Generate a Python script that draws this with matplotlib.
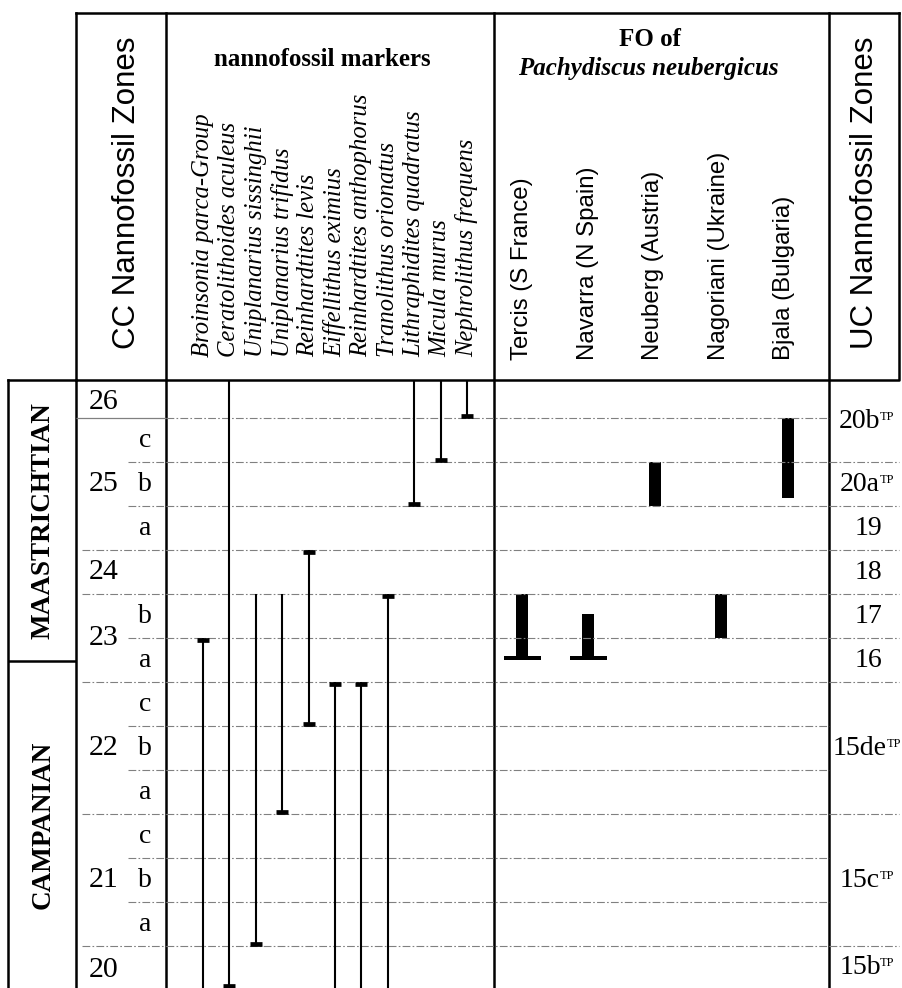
import matplotlib.pyplot as plt

plt.rcParams['font.family'] = 'Liberation Serif'

# --- data (vertical units = CC subzone boundaries, 0 = base of CC26, counting down) ---
markers = ['Broinsonia parca-Group', 'Ceratolithoides aculeus', 'Uniplanarius sissinghii',
           'Uniplanarius trifidus', 'Reinhardtites levis', 'Eiffellithus eximius',
           'Reinhardtites anthophorus', 'Tranolithus orionatus', 'Lithraphidites quadratus',
           'Micula murus', 'Nephrolithus frequens']
marker_top = [5, None, 4, 4, 3, 6, 6, 4, None, None, None]      # None = runs off the top
marker_base = [None, 12.95, 12, 9, 7, None, None, None, 2, 1, 0]  # None = runs off the bottom
top_cap = [True, False, False, False, True, True, True, True, False, False, False]
base_cap = [False, True, True, True, True, False, False, False, True, True, True]

localities = ['Tercis (S France)', 'Navarra (N Spain)', 'Neuberg (Austria)',
              'Nagoriani (Ukraine)', 'Bjala (Bulgaria)']
fo_top = [4.0, 4.45, 1.0, 4.0, 0.0]
fo_base = [5.45, 5.45, 2.0, 5.0, 1.82]
fo_cap = [True, True, False, False, False]

cc_zones = ['26', '25', '24', '23', '22', '21', '20']
cc_zone_pos = [-0.37, 1.5, 3.5, 5.0, 7.5, 10.5, 12.55]
cc_sub = ['c', 'b', 'a', 'b', 'a', 'c', 'b', 'a', 'c', 'b', 'a']
cc_sub_pos = [0.5, 1.5, 2.5, 4.5, 5.5, 6.5, 7.5, 8.5, 9.5, 10.5, 11.5]
cc_major = [0, 3, 4, 6, 9, 12]
cc_minor = [1, 2, 5, 7, 8, 10, 11]

uc_zones = ['20b', '20a', '19', '18', '17', '16', '15de', '15c', '15b']
uc_tp = [True, True, False, False, False, False, True, True, True]
uc_bounds = [1, 2, 3, 4, 5, 6, 9, 12]

stages = ['MAASTRICHTIAN', 'CAMPANIAN']
stage_bound = 5.52

# --- layout (pixels) ---
W, H = 902, 988
Y_TOP, Y_HEAD = 13, 380
X_ST, X_CC, X_MK, X_FO, X_UC, X_R = 8, 76, 166, 494, 829, 899
X_M0, DX_M = 203, 26.4
X_L0, DX_L = 522, 65.6
X_B0, DX_B = 522, 66.4
Y_LIM = (12.95, -0.87)

fig = plt.figure(figsize=(W / 100, H / 100), dpi=100)
ax = fig.add_axes([0, 0, 1, 1])
ax.set_xlim(0, W)
ax.set_ylim(H, 0)
ax.axis('off')

bx = fig.add_axes([0, 0, 1, (H - Y_HEAD) / H])
bx.set_xlim(0, W)
bx.set_ylim(*Y_LIM)
bx.axis('off')

K = 'black'
LW = 1.8

# frame
ax.plot([X_CC, X_R, X_R], [Y_HEAD, Y_HEAD, Y_TOP], color=K, lw=LW)
ax.plot([X_CC, X_R], [Y_TOP, Y_TOP], color=K, lw=LW)
ax.plot([X_ST, X_CC], [Y_HEAD, Y_HEAD], color=K, lw=LW)
for x in [X_CC, X_MK, X_FO, X_UC]:
    ax.plot([x, x], [Y_TOP, H], color=K, lw=LW)
ax.plot([X_ST, X_ST], [Y_HEAD, H], color=K, lw=LW)
bx.hlines(stage_bound, X_ST, X_CC, colors=K, lw=LW)

# header text
ax.text(127, 349, 'CC Nannofossil Zones', rotation=90, ha='center',
        va='bottom', family='Liberation Sans', fontsize=22.5)
ax.text(865, 349, 'UC Nannofossil Zones', rotation=90, ha='center',
        va='bottom', family='Liberation Sans', fontsize=22.5)
ax.text(322, 60, 'nannofossil markers', ha='center', va='center', fontsize=18, weight='bold')
ax.text(650, 40, 'FO of', ha='center', va='center', fontsize=18, weight='bold')
ax.text(648, 68, 'Pachydiscus neubergicus', ha='center', va='center', fontsize=18,
        weight='bold', style='italic')
for i, name in enumerate(markers):
    ax.text(X_M0 + DX_M * i, 357, name, rotation=90, ha='center', va='bottom',
            fontsize=17.7, style='italic')
for i, name in enumerate(localities):
    ax.text(X_L0 + DX_L * i, 360, name, rotation=90, ha='center', va='bottom',
            family='Liberation Sans', fontsize=17.3)

# zone boundaries
DASH = (0, (7, 2, 1.5, 2))
GREY = '0.5'
bx.hlines(0, X_CC, X_MK, colors=GREY, lw=0.9)
bx.hlines([b for b in cc_major if b > 0], 82, X_MK, colors=GREY, lw=0.8, linestyles=DASH)
bx.hlines(cc_minor, 128, X_MK, colors=GREY, lw=0.8, linestyles=DASH)
bx.hlines(cc_major + cc_minor, X_MK, X_UC, colors=GREY, lw=0.8, linestyles=DASH)
bx.hlines(uc_bounds, X_UC, X_R, colors=GREY, lw=0.8, linestyles=DASH)

# CC labels
for z, y in zip(cc_zones, cc_zone_pos):
    bx.text(104, y, z, ha='center', va='center', fontsize=21.5)
for s, y in zip(cc_sub, cc_sub_pos):
    bx.text(145, y, s, ha='center', va='center', fontsize=20)

# stage labels
edges = [Y_LIM[1], stage_bound, Y_LIM[0]]
for i, st in enumerate(stages):
    bx.text((X_ST + X_CC) / 2 + 1, (edges[i] + edges[i + 1]) / 2, st, rotation=90,
            ha='center', va='center', fontsize=19.5, weight='bold')

# UC labels
uc_edges = [Y_LIM[1]] + uc_bounds + [Y_LIM[0]]
for i, (z, tp) in enumerate(zip(uc_zones, uc_tp)):
    y = (uc_edges[i] + uc_edges[i + 1]) / 2
    t = bx.text(860 if tp else 868, y, z, ha='center', va='center', fontsize=20)
    if tp:
        bx.annotate('TP', xy=(1, 1), xycoords=t, xytext=(-0.5, -1.5), textcoords='offset points',
                    ha='left', va='top', fontsize=9)

# nannofossil marker ranges
for i in range(len(markers)):
    x = X_M0 + DX_M * i
    top = Y_LIM[1] if marker_top[i] is None else marker_top[i]
    base = Y_LIM[0] if marker_base[i] is None else marker_base[i]
    bx.vlines(x, top, base, colors=K, lw=1.5)
    if top_cap[i]:
        bx.plot(x, top + 0.05, marker='_', ms=9, mew=3.4, color=K)
    if base_cap[i]:
        bx.plot(x, base - 0.05, marker='_', ms=9, mew=3.4, color=K)

# FO bars
for i in range(len(localities)):
    x = X_B0 + DX_B * i
    bx.bar(x, fo_base[i] - fo_top[i], bottom=fo_top[i], width=12, color=K)
    if fo_cap[i]:
        bx.bar(x, 0.11, bottom=fo_base[i] - 0.055, width=37, color=K)

fig.savefig('out.png', dpi=100)
